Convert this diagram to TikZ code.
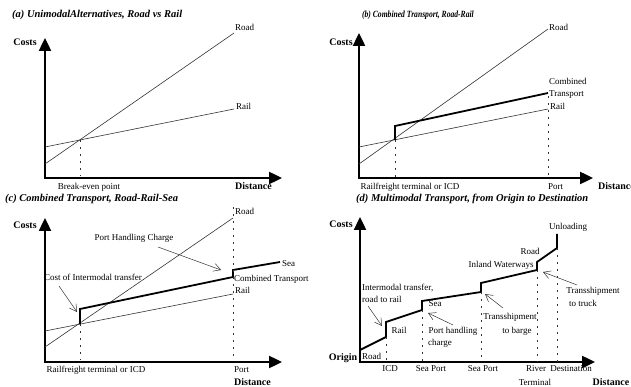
\documentclass[tikz,border=0pt]{standalone}
\usepackage{fontspec}
\setmainfont{Liberation Serif}
\usetikzlibrary{arrows.meta}
\begin{document}
\begin{tikzpicture}[x=1pt,y=-1pt,
  axis/.style={line width=2.4pt,
    {Triangle[length=13pt,width=12pt]}-{Triangle[length=13pt,width=12pt]}},
  costline/.style={line width=0.6pt, draw=black!80},
  combo/.style={line width=1.8pt, line join=miter},
  guide/.style={line width=0.6pt, draw=black!80, dash pattern=on 2pt off 5pt},
  pointer/.style={line width=0.5pt, draw=black!80, -{Straight Barb[length=7pt,width=8pt]}},
  lbl/.style={inner sep=0pt, font=\fontsize{9}{10}\selectfont, text height=6pt, text depth=1.8pt},
  axlbl/.style={inner sep=0pt, font=\fontsize{10}{12}\selectfont\bfseries, text height=6.8pt, text depth=0pt},
  ttl/.style={inner sep=0pt, anchor=west, font=\fontsize{10.5}{12}\selectfont\bfseries\itshape, text height=7pt, text depth=2pt},
]
\useasboundingbox (0,0) rectangle (631,387);

% ---------------- (a) road vs rail ----------------
\node[ttl] (ta) at (12,15) {(a) UnimodalAlternatives, Road vs Rail};
\coordinate (a-ytip) at (45,38);
\coordinate (a-o) at (45,178);
\coordinate (a-xtip) at (282,178);
\draw[axis] (a-ytip) -- (a-o) -- (a-xtip);
\node[axlbl] (a-costs) at (25,42) {Costs};
\node[axlbl, anchor=west] (a-dist) at (235,186) {Distance};
\coordinate (a-road0) at (45,164);
\coordinate (a-road1) at (234,33);
\coordinate (a-rail0) at (45,147);
\coordinate (a-rail1) at (234,109);
\draw[costline] (a-road0) -- (a-road1);
\draw[costline] (a-rail0) -- (a-rail1);
\node[lbl, anchor=west] (a-roadlbl) at (235,28) {Road};
\node[lbl, anchor=west] (a-raillbl) at (236,107) {Rail};
\coordinate (a-be) at (80,140);
\coordinate (a-be0) at (80,176);
\draw[guide] (a-be) -- (a-be0);
\node[lbl] (a-belbl) at (89,187) {Break-even point};

% ---------------- (b) road-rail ----------------
\node[ttl, font=\fontsize{9.5}{11}\selectfont\bfseries\itshape, xscale=0.8, transform shape]
  (tb) at (362,15) {(b) Combined Transport, Road-Rail};
\coordinate (b-ytip) at (359,33);
\coordinate (b-o) at (359,178);
\coordinate (b-xtip) at (593,178);
\draw[axis] (b-ytip) -- (b-o) -- (b-xtip);
\node[axlbl] (b-costs) at (341,42) {Costs};
\node[axlbl, anchor=west] (b-dist) at (598,186) {Distance};
\coordinate (b-road0) at (359,164);
\coordinate (b-road1) at (548,29);
\coordinate (b-rail0) at (359,147);
\coordinate (b-rail1) at (548,109);
\draw[costline] (b-road0) -- (b-road1);
\draw[costline] (b-rail0) -- (b-rail1);
\coordinate (b-t0) at (395,140);
\coordinate (b-t1) at (395,126);
\coordinate (b-t2) at (548,93);
\draw[combo] (b-t0) -- (b-t1) -- (b-t2);
\coordinate (b-g0) at (395,178);
\coordinate (b-p0) at (548,96);
\coordinate (b-p1) at (548,178);
\draw[guide] (b-t0) -- (b-g0);
\draw[guide] (b-p0) -- (b-p1);
\node[lbl, anchor=west] (b-roadlbl) at (549,28) {Road};
\node[lbl, anchor=west] (b-comb1) at (549,82) {Combined};
\node[lbl, anchor=west] (b-comb2) at (549,94) {Transport};
\node[lbl, anchor=west] (b-raillbl) at (550,107) {Rail};
\node[lbl] (b-icd) at (410,187) {Railfreight terminal or ICD};
\node[lbl, anchor=west] (b-port) at (548,187) {Port};

% ---------------- (c) road-rail-sea ----------------
\node[ttl] (tc) at (5,199) {(c) Combined Transport, Road-Rail-Sea};
\coordinate (c-ytip) at (45,218);
\coordinate (c-o) at (45,362);
\coordinate (c-xtip) at (282,362);
\draw[axis] (c-ytip) -- (c-o) -- (c-xtip);
\node[axlbl] (c-costs) at (25,225) {Costs};
\node[axlbl, anchor=west] (c-dist) at (234,382) {Distance};
\coordinate (c-road0) at (45,347);
\coordinate (c-road1) at (233,218);
\coordinate (c-rail0) at (45,331);
\coordinate (c-rail1) at (233,294);
\draw[costline] (c-road0) -- (c-road1);
\draw[costline] (c-rail0) -- (c-rail1);
\coordinate (c-t0) at (80,324);
\coordinate (c-t1) at (80,309);
\coordinate (c-t2) at (233,277);
\coordinate (c-t3) at (233,270);
\coordinate (c-t4) at (280,262);
\draw[combo] (c-t0) -- (c-t1) -- (c-t2) -- (c-t3) -- (c-t4);
\coordinate (c-g0) at (80,360);
\coordinate (c-p0) at (233,207);
\coordinate (c-p1) at (233,360);
\draw[guide] (c-t0) -- (c-g0);
\draw[guide] (c-p0) -- (c-p1);
\node[lbl, anchor=west] (c-roadlbl) at (235,212) {Road};
\node[lbl, anchor=west] (c-sealbl) at (282,264) {Sea};
\node[lbl, anchor=west] (c-comblbl) at (234,279) {Combined Transport};
\node[lbl, anchor=west] (c-raillbl) at (235,291) {Rail};
\node[lbl] (c-cost) at (93,278) {Cost of Intermodal transfer};
\node[lbl] (c-phc) at (134,238) {Port Handling Charge};
\coordinate (c-a0) at (59,286);
\coordinate (c-a1) at (77,312);
\draw[pointer] (c-a0) -- (c-a1);
\coordinate (c-b0) at (158,247);
\coordinate (c-b1) at (221,270);
\draw[pointer] (c-b0) -- (c-b1);
\node[lbl] (c-icd) at (96,370) {Railfreight terminal or ICD};
\node[lbl, anchor=west] (c-port) at (234,370) {Port};

% ---------------- (d) origin to destination ----------------
\node[ttl] (td) at (356,199) {(d) Multimodal Transport, from Origin to Destination};
\coordinate (d-ytip) at (360,217);
\coordinate (d-o) at (360,362);
\coordinate (d-xtip) at (595,362);
\draw[axis] (d-ytip) -- (d-o) -- (d-xtip);
\node[axlbl] (d-costs) at (341,224) {Costs};
\node[axlbl] (d-origin) at (343,357) {Origin};
\node[axlbl] (d-dist) at (611,382) {Distance};
% cumulative cost staircase
\coordinate (d-s0) at (360,350);
\coordinate (d-s1) at (386,337);
\coordinate (d-s2) at (386,322);
\coordinate (d-s3) at (422,310);
\coordinate (d-s4) at (422,301);
\coordinate (d-s5) at (481,292);
\coordinate (d-s6) at (481,283);
\coordinate (d-s7) at (537,270);
\coordinate (d-s8) at (537,262);
\coordinate (d-s9) at (557,248);
\coordinate (d-s10) at (557,234);
\draw[combo] (d-s0) -- (d-s1) -- (d-s2) -- (d-s3) -- (d-s4) -- (d-s5)
  -- (d-s6) -- (d-s7) -- (d-s8) -- (d-s9) -- (d-s10);
% transfer points
\coordinate (d-g1) at (386,362);
\coordinate (d-g2) at (422,362);
\coordinate (d-g3) at (481,362);
\coordinate (d-g4) at (537,362);
\coordinate (d-g5) at (557,362);
\draw[guide] (d-s1) -- (d-g1);
\draw[guide] (d-s3) -- (d-g2);
\draw[guide] (d-s5) -- (d-g3);
\draw[guide] (d-s7) -- (d-g4);
\draw[guide] (d-s9) -- (d-g5);
% mode and transfer labels
\node[lbl, anchor=west] (d-road) at (362,357) {Road};
\node[lbl, anchor=west] (d-im1) at (362,288) {Intermodal transfer,};
\node[lbl, anchor=west] (d-im2) at (362,300) {road to rail};
\node[lbl] (d-rail) at (399,331) {Rail};
\node[lbl] (d-sea) at (435,304) {Sea};
\node[lbl] (d-ph1) at (453,331) {Port handling};
\node[lbl] (d-ph2) at (440,343) {charge};
\node[lbl] (d-tb1) at (510,317) {Transshipment};
\node[lbl] (d-tb2) at (517,331) {to barge};
\node[lbl] (d-iw) at (501,265) {Inland Waterways};
\node[lbl] (d-road2) at (530,252) {Road};
\node[lbl] (d-unl) at (568,227) {Unloading};
\node[lbl] (d-tt1) at (593,291) {Transshipment};
\node[lbl] (d-tt2) at (583,304) {to truck};
% pointers
\coordinate (d-a0) at (368,306);
\coordinate (d-a1) at (382,326);
\draw[pointer] (d-a0) -- (d-a1);
\coordinate (d-b0) at (453,325);
\coordinate (d-b1) at (428,313);
\draw[pointer] (d-b0) -- (d-b1);
\coordinate (d-c0) at (503,308);
\coordinate (d-c1) at (485,294);
\draw[pointer] (d-c0) -- (d-c1);
\coordinate (d-e0) at (577,285);
\coordinate (d-e1) at (543,272);
\draw[pointer] (d-e0) -- (d-e1);
% distance axis stops
\node[lbl] (d-icd) at (390,369) {ICD};
\node[lbl] (d-sp1) at (431,369) {Sea Port};
\node[lbl] (d-sp2) at (483,369) {Sea Port};
\node[lbl] (d-river) at (536,369) {River};
\node[lbl] (d-term) at (535,383) {Terminal};
\node[lbl] (d-dest) at (571,369) {Destination};
\end{tikzpicture}
\end{document}
